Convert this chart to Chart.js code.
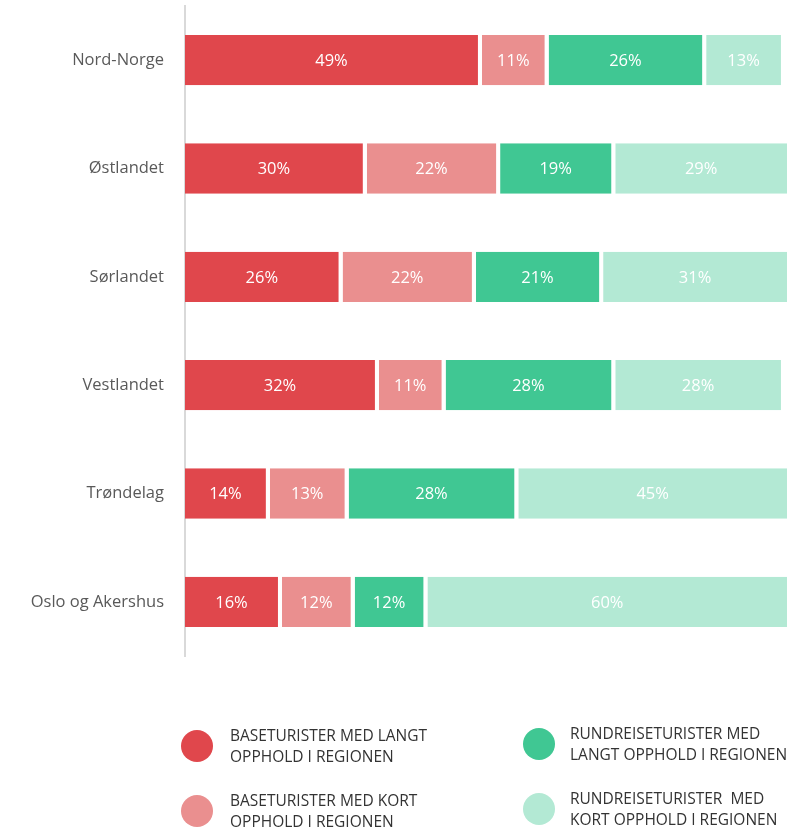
<!DOCTYPE html>
<html>
<head>
<meta charset="utf-8">
<script src="https://cdn.jsdelivr.net/npm/chart.js@4"></script>
<style>
  body { margin: 0; background: #fff; font-family: "Open Sans", Lato, sans-serif; }
  #wrap { position: relative; width: 794px; height: 829px; overflow: hidden; }
  #wrap canvas { display: block; }
  .leg { position: absolute; display: flex; align-items: center; color: #333; font-size: 15.5px; line-height: 21px; }
  .dot { width: 32px; height: 32px; border-radius: 50%; margin-right: 17px; flex: none; }
</style>
</head>
<body>
<div id="wrap">
  <canvas id="regionChart"></canvas>
  <div class="leg" style="left:181px; top:725px;"><span class="dot" style="background:#e0474c"></span><span>BASETURISTER MED LANGT<br>OPPHOLD I REGIONEN</span></div>
  <div class="leg" style="left:181px; top:790px;"><span class="dot" style="background:#ea8f8f"></span><span>BASETURISTER MED KORT<br>OPPHOLD I REGIONEN</span></div>
  <div class="leg" style="left:523px; top:723px;"><span class="dot" style="background:#40c793"></span><span style="margin-left:-2px">RUNDREISETURISTER MED<br>LANGT OPPHOLD I REGIONEN</span></div>
  <div class="leg" style="left:523px; top:788px;"><span class="dot" style="background:#b3e9d4"></span><span style="margin-left:-2px">RUNDREISETURISTER&nbsp; MED<br>KORT OPPHOLD I REGIONEN</span></div>
</div>
<script>
const regions = ['Nord-Norge', 'Østlandet', 'Sørlandet', 'Vestlandet', 'Trøndelag', 'Oslo og Akershus'];
const baseLong = [49, 30, 26, 32, 14, 16];
const baseShort = [11, 22, 22, 11, 13, 12];
const roundLong = [26, 19, 21, 28, 28, 12];
const roundShort = [13, 29, 31, 28, 45, 60];

// draws the % value in the middle of every segment
const valueLabels = {
    id: 'valueLabels',
    afterDatasetsDraw(chart) {
        const c = chart.ctx;
        c.save();
        c.font = '16.5px "Open Sans", Lato, sans-serif';
        c.fillStyle = '#ffffff';
        c.textAlign = 'center';
        c.textBaseline = 'middle';
        chart.data.datasets.forEach((ds, i) => {
            chart.getDatasetMeta(i).data.forEach((bar, j) => {
                const p = bar.getProps(['x', 'y', 'base'], true);
                c.fillText(ds.data[j] + '%', (p.x + p.base) / 2 - 2, p.y + 1);
            });
        });
        c.restore();
    }
};

const seg = (label, data, color) => ({
    label: label,
    data: data,
    backgroundColor: color,
    borderColor: '#ffffff',
    borderWidth: { left: 0, right: 4, top: 0, bottom: 0 },
    borderSkipped: false,
    barPercentage: 0.465,
    categoryPercentage: 1
});

const ctx = document.getElementById('regionChart').getContext('2d');
const regionChart = new Chart(ctx, {
    type: 'bar',
    data: {
        labels: regions,
        datasets: [
            seg('Baseturister med langt opphold i regionen', baseLong, '#e0474c'),
            seg('Baseturister med kort opphold i regionen', baseShort, '#ea8f8f'),
            seg('Rundreiseturister med langt opphold i regionen', roundLong, '#40c793'),
            seg('Rundreiseturister med kort opphold i regionen', roundShort, '#b3e9d4')
        ]
    },
    options: {
        indexAxis: 'y',
        responsive: true,
        maintainAspectRatio: false,
        animation: false,
        layout: { padding: { top: 6, right: 3, bottom: 173, left: 0 } },
        plugins: {
            legend: { display: false },
            tooltip: { enabled: false }
        },
        scales: {
            x: {
                stacked: true,
                display: false,
                min: 0,
                max: 100
            },
            y: {
                stacked: true,
                afterFit: (scale) => {
                    scale.width = 185;
                    // tick padding would otherwise push the plot down
                    scale.paddingTop = 0;
                    scale.paddingBottom = 0;
                },
                grid: { display: false, drawTicks: false },
                border: { display: true, color: '#d9d9d9', width: 2 },
                ticks: {
                    padding: 21,
                    color: '#595959',
                    font: { family: '"Open Sans", Lato, sans-serif', size: 16.5 }
                }
            }
        }
    },
    plugins: [valueLabels]
});
</script>
</body>
</html>
